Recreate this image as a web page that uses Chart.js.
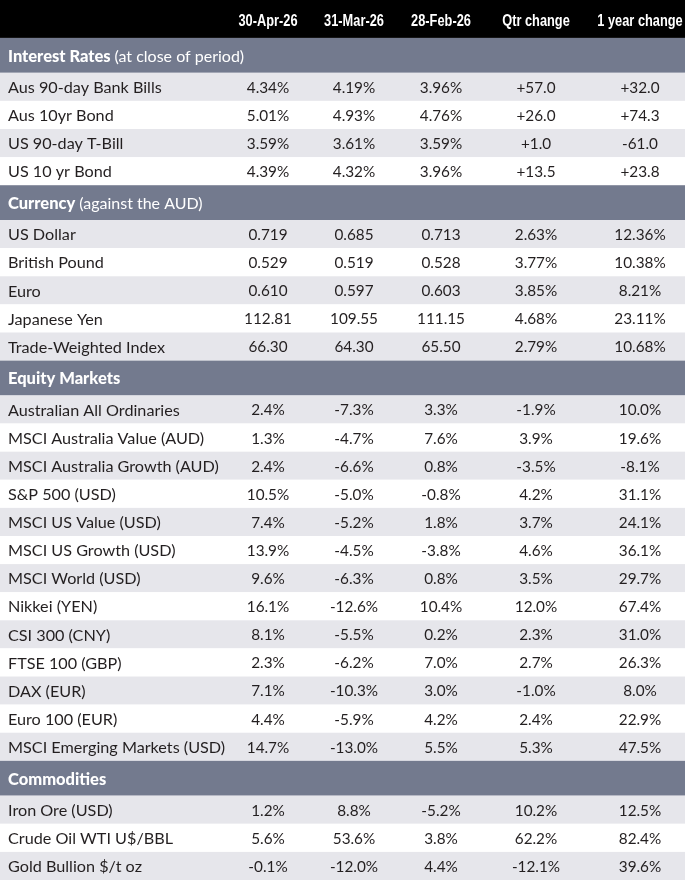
<!DOCTYPE html>
<html>
<head>
<meta charset="utf-8">
<script src="https://cdn.jsdelivr.net/npm/chart.js@4.4.1/dist/chart.umd.min.js"></script>
<style>
html,body{margin:0;padding:0;background:#fff;}
#wrap{width:685px;height:880px;position:relative;}
</style>
</head>
<body>
<div id="wrap"><canvas id="c"></canvas></div>
<script>
// ---------- DATA ----------
const columnHeaders = ['30-Apr-26', '31-Mar-26', '28-Feb-26', 'Qtr change', '1 year change'];
const sectionTitles = ['Interest Rates', 'Currency', 'Equity Markets', 'Commodities'];
const sectionNotes = ['(at close of period)', '(against the AUD)', '', ''];

const interestLabels = ['Aus 90-day Bank Bills', 'Aus 10yr Bond', 'US 90-day T-Bill', 'US 10 yr Bond'];
const interestApr = [4.34, 5.01, 3.59, 4.39];
const interestMar = [4.19, 4.93, 3.61, 4.32];
const interestFeb = [3.96, 4.76, 3.59, 3.96];
const interestQtr = [57.0, 26.0, 1.0, 13.5];
const interestYear = [32.0, 74.3, -61.0, 23.8];

const currencyLabels = ['US Dollar', 'British Pound', 'Euro', 'Japanese Yen', 'Trade-Weighted Index'];
const currencyApr = [0.719, 0.529, 0.610, 112.81, 66.30];
const currencyMar = [0.685, 0.519, 0.597, 109.55, 64.30];
const currencyFeb = [0.713, 0.528, 0.603, 111.15, 65.50];
const currencyQtr = [2.63, 3.77, 3.85, 4.68, 2.79];
const currencyYear = [12.36, 10.38, 8.21, 23.11, 10.68];

const equityLabels = ['Australian All Ordinaries', 'MSCI Australia Value (AUD)', 'MSCI Australia Growth (AUD)',
  'S&P 500 (USD)', 'MSCI US Value (USD)', 'MSCI US Growth (USD)', 'MSCI World (USD)', 'Nikkei (YEN)',
  'CSI 300 (CNY)', 'FTSE 100 (GBP)', 'DAX (EUR)', 'Euro 100 (EUR)', 'MSCI Emerging Markets (USD)'];
const equityApr = [2.4, 1.3, 2.4, 10.5, 7.4, 13.9, 9.6, 16.1, 8.1, 2.3, 7.1, 4.4, 14.7];
const equityMar = [-7.3, -4.7, -6.6, -5.0, -5.2, -4.5, -6.3, -12.6, -5.5, -6.2, -10.3, -5.9, -13.0];
const equityFeb = [3.3, 7.6, 0.8, -0.8, 1.8, -3.8, 0.8, 10.4, 0.2, 7.0, 3.0, 4.2, 5.5];
const equityQtr = [-1.9, 3.9, -3.5, 4.2, 3.7, 4.6, 3.5, 12.0, 2.3, 2.7, -1.0, 2.4, 5.3];
const equityYear = [10.0, 19.6, -8.1, 31.1, 24.1, 36.1, 29.7, 67.4, 31.0, 26.3, 8.0, 22.9, 47.5];

const commodityLabels = ['Iron Ore (USD)', 'Crude Oil WTI U$/BBL', 'Gold Bullion $/t oz'];
const commodityApr = [1.2, 5.6, -0.1];
const commodityMar = [8.8, 53.6, -12.0];
const commodityFeb = [-5.2, 3.8, 4.4];
const commodityQtr = [10.2, 62.2, -12.1];
const commodityYear = [12.5, 82.4, 39.6];

// ---------- FORMATTERS ----------
const pct2 = v => v.toFixed(2) + '%';
const pct1 = v => v.toFixed(1) + '%';
const signed1 = v => (v >= 0 ? '+' : '') + v.toFixed(1);
const fx = v => (v < 10 ? v.toFixed(3) : v.toFixed(2));

const sections = [
  { labels: interestLabels, cols: [interestApr, interestMar, interestFeb, interestQtr, interestYear],
    fmts: [pct2, pct2, pct2, signed1, signed1] },
  { labels: currencyLabels, cols: [currencyApr, currencyMar, currencyFeb, currencyQtr, currencyYear],
    fmts: [fx, fx, fx, pct2, pct2] },
  { labels: equityLabels, cols: [equityApr, equityMar, equityFeb, equityQtr, equityYear],
    fmts: [pct1, pct1, pct1, pct1, pct1] },
  { labels: commodityLabels, cols: [commodityApr, commodityMar, commodityFeb, commodityQtr, commodityYear],
    fmts: [pct1, pct1, pct1, pct1, pct1] }
];

// ---------- LAYOUT (row units; one data row = 1) ----------
const HEADER_H = 1.35, SECTION_H = 1.24, ROW_H = 1;
const rows = [];
let cursor = 0;
rows.push({ type: 'header', y0: cursor, y1: cursor + HEADER_H }); cursor += HEADER_H;
sections.forEach((s, si) => {
  rows.push({ type: 'section', si, y0: cursor, y1: cursor + SECTION_H }); cursor += SECTION_H;
  s.labels.forEach((lab, ri) => {
    rows.push({ type: 'data', si, ri, y0: cursor, y1: cursor + ROW_H }); cursor += ROW_H;
  });
});
const TOTAL = cursor;

const COL_X = [268, 354, 441, 536, 640];
const LABEL_X = 8;
const W = 685;

const COLORS = { header: '#000000', section: '#737a8e', shade: '#e6e6eb', plain: '#ffffff',
  text: '#231f20', white: '#ffffff' };
const FONT_LABEL = '16.2px Lato, "Open Sans", sans-serif';
const FONT_NUM = '15.3px Lato, "Open Sans", sans-serif';
const FONT_NOTE = '16px Lato, "Open Sans", sans-serif';
const FONT_BOLD = '900 16.5px Lato, "Open Sans", sans-serif';
const FONT_HEAD = 'bold 16px "Liberation Sans", Arial, sans-serif';
const HEAD_SQUEEZE = 0.8;

const tablePlugin = {
  id: 'tablePlugin',
  beforeDatasetsDraw(chart) {
    const { ctx, scales: { x, y } } = chart;
    ctx.save();
    rows.forEach(r => {
      let fill;
      if (r.type === 'header') fill = COLORS.header;
      else if (r.type === 'section') fill = COLORS.section;
      else fill = (r.ri % 2 === 0) ? COLORS.shade : COLORS.plain;
      const top = y.getPixelForValue(r.y0), bot = y.getPixelForValue(r.y1);
      ctx.fillStyle = fill;
      ctx.fillRect(x.getPixelForValue(0), top, x.getPixelForValue(W) - x.getPixelForValue(0), bot - top);
    });
    ctx.restore();
  },
  afterDatasetsDraw(chart) {
    const { ctx, scales: { x, y } } = chart;
    ctx.save();
    ctx.textBaseline = 'middle';
    rows.forEach(r => {
      const cy = y.getPixelForValue((r.y0 + r.y1) / 2) + 1;
      if (r.type === 'header') {
        ctx.font = FONT_HEAD; ctx.fillStyle = COLORS.white; ctx.textAlign = 'center';
        columnHeaders.forEach((h, i) => {
          ctx.save();
          ctx.translate(x.getPixelForValue(COL_X[i]), cy + 2);
          ctx.scale(HEAD_SQUEEZE, 1);
          ctx.fillText(h, 0, 0);
          ctx.restore();
        });
      } else if (r.type === 'section') {
        ctx.textAlign = 'left'; ctx.fillStyle = COLORS.white;
        ctx.font = FONT_BOLD;
        const t = sectionTitles[r.si];
        const lx = x.getPixelForValue(LABEL_X);
        ctx.fillText(t, lx, cy);
        const note = sectionNotes[r.si];
        if (note) {
          const w = ctx.measureText(t + ' ').width;
          ctx.font = FONT_NOTE;
          ctx.fillText(note, lx + w, cy);
        }
      } else {
        const s = sections[r.si];
        ctx.fillStyle = COLORS.text; ctx.font = FONT_LABEL;
        ctx.textAlign = 'left';
        ctx.fillText(s.labels[r.ri], x.getPixelForValue(LABEL_X), cy);
        ctx.textAlign = 'center';
        ctx.font = FONT_NUM;
        s.cols.forEach((col, ci) => ctx.fillText(s.fmts[ci](col[r.ri]), x.getPixelForValue(COL_X[ci]), cy));
      }
    });
    ctx.restore();
  }
};

new Chart(document.getElementById('c'), {
  type: 'scatter',
  data: { datasets: [] },
  options: {
    responsive: true,
    maintainAspectRatio: false,
    animation: false,
    layout: { padding: 0 },
    plugins: { legend: { display: false }, tooltip: { enabled: false } },
    scales: {
      x: { type: 'linear', display: false, min: 0, max: W },
      y: { type: 'linear', display: false, min: 0, max: TOTAL, reverse: true }
    }
  },
  plugins: [tablePlugin]
});
</script>
</body>
</html>
